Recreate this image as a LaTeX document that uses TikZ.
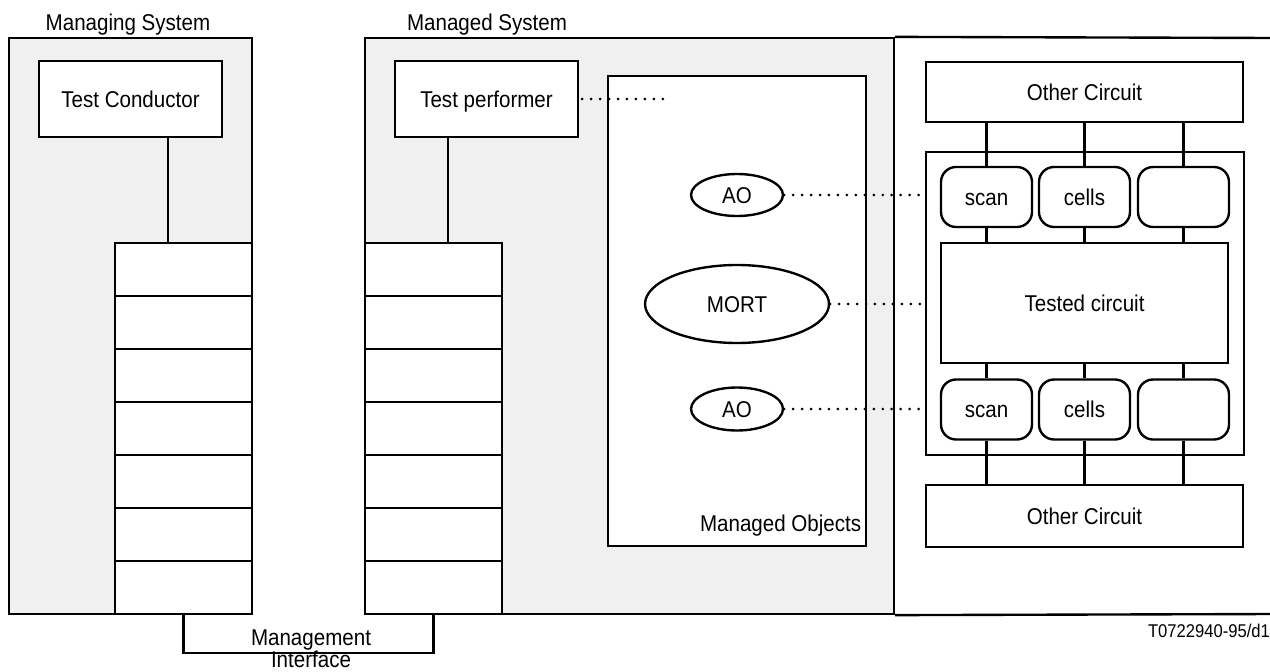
\documentclass[tikz,border=0pt]{standalone}
\usepackage{fontspec}
\setmainfont{Liberation Sans}[FakeStretch=0.9]
\usepackage{tikz}
\usetikzlibrary{shapes.geometric, calc}
\definecolor{sysgray}{HTML}{F0F0F0}
\tikzset{blk/.style={rectangle, draw, fill=white, inner sep=0pt,
text height=9.3pt, text depth=0pt}}
\tikzset{obj/.style={ellipse, draw, fill=white, inner sep=0pt,
text height=9.3pt, text depth=0pt}}
\tikzset{scell/.style={rectangle, draw, fill=white, rounded corners = 0.3cm,
minimum width = 1.82cm, minimum height = 1.2cm, inner sep=0pt,
text height=9.3pt, text depth=0pt}}
\tikzset{cell/.style={rectangle, draw, fill=white,
minimum width = 2.74cm, minimum height = 1.06cm}}
\tikzset{dots/.style={line width=1.7pt, line cap=round, dash pattern=on 0pt off 5.1pt}}
\newcommand{\stackcell}[1]{ node[cell, name={#1}] {}}

\begin{document}
\begin{tikzpicture}[x=0.02cm, y=-0.02cm, line width=1.35pt,
font=\fontsize{13}{12.5}\selectfont
]
\useasboundingbox (0,0) rectangle (1270,672);

% the two systems
\node[rectangle,
minimum width = 4.86cm,
minimum height = 11.52cm,
fill=sysgray,
draw] (mgng) at (130.5, 326) {};
\node[rectangle,
minimum width = 10.58cm,
minimum height = 11.52cm,
fill=sysgray,
draw] (mgd) at (629.5, 326) {};
\coordinate (rimT) at (1275, 38);
\coordinate (rimB) at (1275, 614);
\draw (mgd.north east) -- (rimT);
\draw (mgd.south east) -- (rimB);

\node [anchor=base] (mgngl) at (128, 31) {Managing System};
\node [anchor=base] (mgdl) at (487, 31) {Managed System};

\node[blk,
minimum width = 3.66cm,
minimum height = 1.52cm] (cond) at (130.5, 99) {Test Conductor};
\node[blk,
minimum width = 3.66cm,
minimum height = 1.52cm] (perf) at (486.5, 99) {Test performer};

% protocol stacks
\draw [] (183.5, 269.5) \stackcell{l1};
\draw [] (183.5, 322.5) \stackcell{l2};
\draw [] (183.5, 375.5) \stackcell{l3};
\draw [] (183.5, 428.5) \stackcell{l4};
\draw [] (183.5, 481.5) \stackcell{l5};
\draw [] (183.5, 534.5) \stackcell{l6};
\draw [] (183.5, 587.5) \stackcell{l7};

\draw [] (433.5, 269.5) \stackcell{r1};
\draw [] (433.5, 322.5) \stackcell{r2};
\draw [] (433.5, 375.5) \stackcell{r3};
\draw [] (433.5, 428.5) \stackcell{r4};
\draw [] (433.5, 481.5) \stackcell{r5};
\draw [] (433.5, 534.5) \stackcell{r6};
\draw [] (433.5, 587.5) \stackcell{r7};

\coordinate (condp) at ([xshift=0.75cm]cond.south);
\coordinate (perfp) at ([xshift=-0.77cm]perf.south);
\draw [] (condp) -- (condp |- l1.north);
\draw [] (perfp) -- (perfp |- r1.north);

\draw [] (l7.south) -- ++(0,38) -| (r7.south);
\node [anchor=north, align=center, inner sep=0pt] (mif) at (311, 628.5) {Management\\Interface};

% managed objects
\node[rectangle,
minimum width = 5.16cm,
minimum height = 9.4cm,
fill=white,
draw] (mo) at (737, 311) {};
\node [anchor=base west] (mol) at (693, 531) {Managed Objects};

\node[obj, minimum width = 1.84cm, minimum height = 0.84cm] (ao1) at (737, 195) {AO};
\node[obj, minimum width = 3.68cm, minimum height = 1.56cm] (mort) at (737, 304) {MORT};
\node[obj, minimum width = 1.84cm, minimum height = 0.86cm] (ao2) at (737, 409) {AO};

% circuit side
\node[blk,
minimum width = 6.34cm,
minimum height = 1.2cm] (oc1) at (1084.5, 92) {Other Circuit};
\node[rectangle,
minimum width = 6.36cm,
minimum height = 6.06cm,
draw] (chip) at (1085, 303.5) {};
\node[blk,
minimum width = 5.74cm,
minimum height = 2.4cm] (tc) at (1084.5, 303) {Tested circuit};
\node[blk,
minimum width = 6.34cm,
minimum height = 1.24cm] (oc2) at (1084.5, 516) {Other Circuit};

\node[scell] (scanT) at (986.5, 197) {scan};
\node[scell] (cellsT) at (1084.5, 197) {cells};
\node[scell] (spareT) at (1183.5, 197) {};
\node[scell] (scanB) at (986.5, 409.5) {scan};
\node[scell] (cellsB) at (1084.5, 409.5) {cells};
\node[scell] (spareB) at (1183.5, 409.5) {};

\draw [] (oc1.south -| scanT) -- (scanT);
\draw [] (oc1.south -| cellsT) -- (cellsT);
\draw [] (oc1.south -| spareT) -- (spareT);
\draw [] (scanT) -- (tc.north -| scanT);
\draw [] (cellsT) -- (tc.north -| cellsT);
\draw [] (spareT) -- (tc.north -| spareT);
\draw [] (tc.south -| scanB) -- (scanB);
\draw [] (tc.south -| cellsB) -- (cellsB);
\draw [] (tc.south -| spareB) -- (spareB);
\draw [] (scanB) -- (oc2.north -| scanB);
\draw [] (cellsB) -- (oc2.north -| cellsB);
\draw [] (spareB) -- (oc2.north -| spareB);

% dotted links
\coordinate (perfd) at (663, 99);
\draw [dots] ([xshift=0.06cm]perf.east) -- (perfd);
\draw [dots] (ao1) -- (chip.west |- ao1);
\draw [dots] (mort) -- (chip.west |- mort);
\draw [dots] (ao2) -- (chip.west |- ao2);

\node [anchor=base west, font=\fontsize{10.5}{12}\selectfont] (tag) at (1141, 637) {T0722940-95/d19};
\end{tikzpicture}
\end{document}
